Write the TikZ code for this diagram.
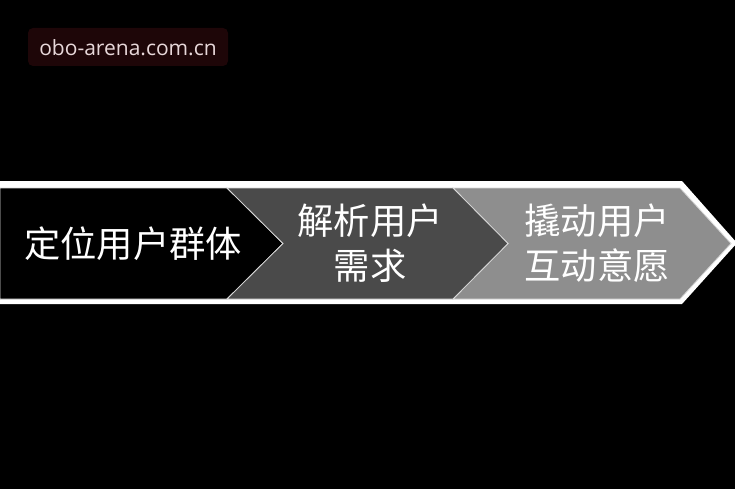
\documentclass[tikz,border=0pt]{standalone}
\usepackage{fontspec}
\setmainfont{Open Sans}
\newfontfamily\cjk{Noto Sans CJK SC}
\definecolor{wmbg}{HTML}{1E0608}
\definecolor{wmfg}{HTML}{E8D8DA}
\definecolor{cdark}{HTML}{4A4A4A}
\definecolor{clight}{HTML}{8E8E8E}
\tikzset{
  chev/.style={draw=white!85!black, line width=0.8pt, line join=miter},
  lbl/.style={text=white, font=\cjk\fontsize{36.3}{45}\selectfont, align=center, inner sep=0pt}
}
\begin{document}
\begin{tikzpicture}[x=1pt,y=-1pt]
\fill[black] (0,0) rectangle (735,489);
\useasboundingbox (0,0) rectangle (735,489);
% watermark
\node[fill=wmbg, rounded corners=5pt, minimum width=200pt, minimum height=38pt, inner sep=0pt] (wm) at (128,47) {};
\node[text=wmfg, font=\fontsize{21}{24}\selectfont, inner sep=0pt] (wmt) at (128,48) {obo-arena.com.cn};
% white outline
\fill[white] (0,181) -- (682,181) -- (737,243) -- (682,304) -- (0,304) -- cycle;
% chevrons
\filldraw[chev, fill=black] (0,188) -- (227,188) -- (283,243.5) -- (227,299) -- (0,299) -- cycle;
\filldraw[chev, fill=clight] (453,188) -- (680,188) -- (731,243.5) -- (680,299) -- (453,299) -- (508,243.5) -- cycle;
\filldraw[chev, fill=cdark] (227,188) -- (453,188) -- (508,243.5) -- (453,299) -- (227,299) -- (283,243.5) -- cycle;
% labels
\node[lbl] (t1) at (133,244) {定位用户群体};
\node[lbl] (t2) at (370,243) {解析用户\\需求};
\node[lbl] (t3) at (597,243) {撬动用户\\互动意愿};
\end{tikzpicture}
\end{document}
